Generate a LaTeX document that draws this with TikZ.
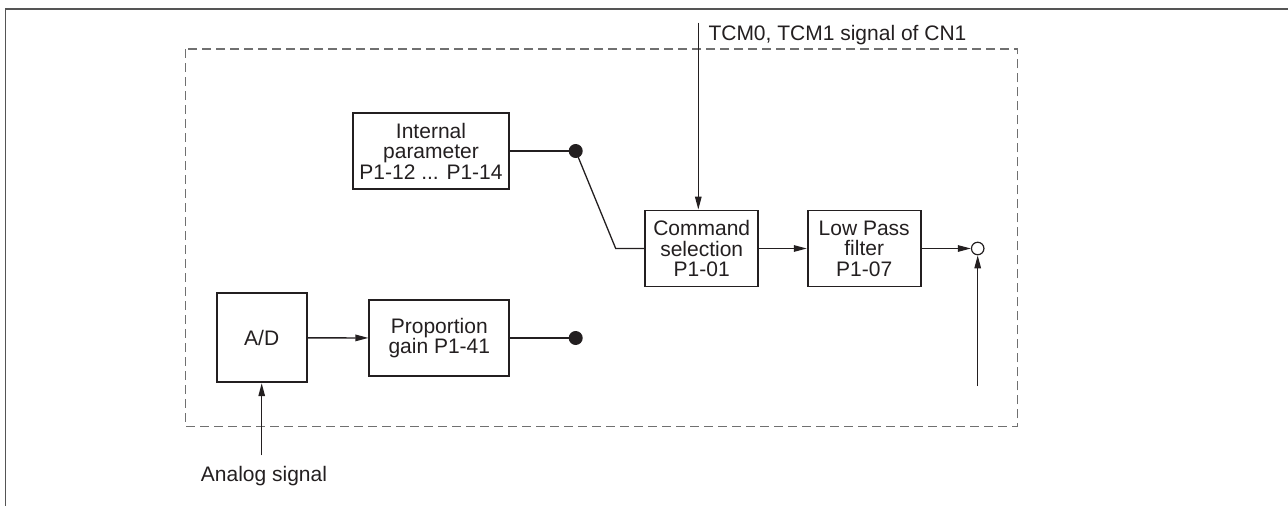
\documentclass[tikz,border=0pt]{standalone}
\usepackage{fontspec}
\setmainfont{Liberation Sans}
\usetikzlibrary{arrows.meta}
\definecolor{ink}{HTML}{231F20}
\definecolor{framegray}{HTML}{555555}
\definecolor{dashgray}{HTML}{707070}
\tikzset{
  blk/.style={draw=ink, line width=1.8pt, inner sep=0pt, align=center, text=ink,
    font=\fontsize{21}{20.5}\selectfont},
  conn/.style={draw=ink, line width=1.3pt},
  arr/.style={conn, -{Triangle[length=13pt,width=6.5pt]}},
  fdot/.style={circle, fill=ink, inner sep=0pt, minimum size=14pt},
  odot/.style={circle, draw=ink, fill=white, line width=1.2pt, inner sep=0pt, minimum size=12.5pt},
  lbl/.style={inner sep=0pt, text=ink, font=\fontsize{21}{24}\selectfont}
}
\begin{document}
\begin{tikzpicture}[x=1pt,y=-1pt]
\useasboundingbox (0,0) rectangle (1288,506);
% outer frame
\draw[framegray, line width=1.6pt] (5.5,506) -- (5.5,9) -- (1288,9);
% dashed enclosure
\draw[dashgray, line width=1.5pt, dash pattern=on 9pt off 5pt] (185.7,49) rectangle (1017.7,426.7);
% blocks
\node[blk, minimum width=156pt, minimum height=76pt] (ip) at (431,151) {Internal\\parameter\\P1-12 ... P1-14};
\node[blk, minimum width=113pt, minimum height=76pt] (cmd) at (701.7,248.5) {Command\\selection\\P1-01};
\node[blk, minimum width=113pt, minimum height=76pt] (lpf) at (864.2,248.5) {Low Pass\\filter\\P1-07};
\node[blk, minimum width=90pt, minimum height=89pt] (ad) at (261.7,337.8) {A/D};
\node[blk, minimum width=140pt, minimum height=76pt] (pg) at (439.3,338) {Proportion\\gain P1-41};
% junctions
\node[fdot] (d1) at (575.7,151) {};
\node[fdot] (d2) at (575.7,338) {};
\node[odot] (oc) at (977.7,248.5) {};
\coordinate (bend) at (615.7,248.5);
\coordinate (tcmtop) at (698.3,22.7);
\coordinate (asig) at (261.7,455.3);
\coordinate (up) at (977.7,386);
% labels
\node[lbl, anchor=base west] (tcm) at (708.3,40) {TCM0, TCM1 signal of CN1};
\node[lbl, anchor=base west] (an) at (200.7,481) {Analog signal};
% connectors
\draw[conn] (ip) -- (d1);
\draw[conn] (d1.center) -- (bend) -- (cmd.west);
\draw[arr] (tcmtop) -- (cmd.north -| tcmtop);
\draw[arr] (cmd) -- (lpf);
\draw[arr] (lpf) -- (oc);
\draw[arr] (up) -- (oc);
\draw[arr] (ad) -- (pg);
\draw[conn] (pg) -- (d2);
\draw[arr] (asig) -- (ad);
\end{tikzpicture}
\end{document}
